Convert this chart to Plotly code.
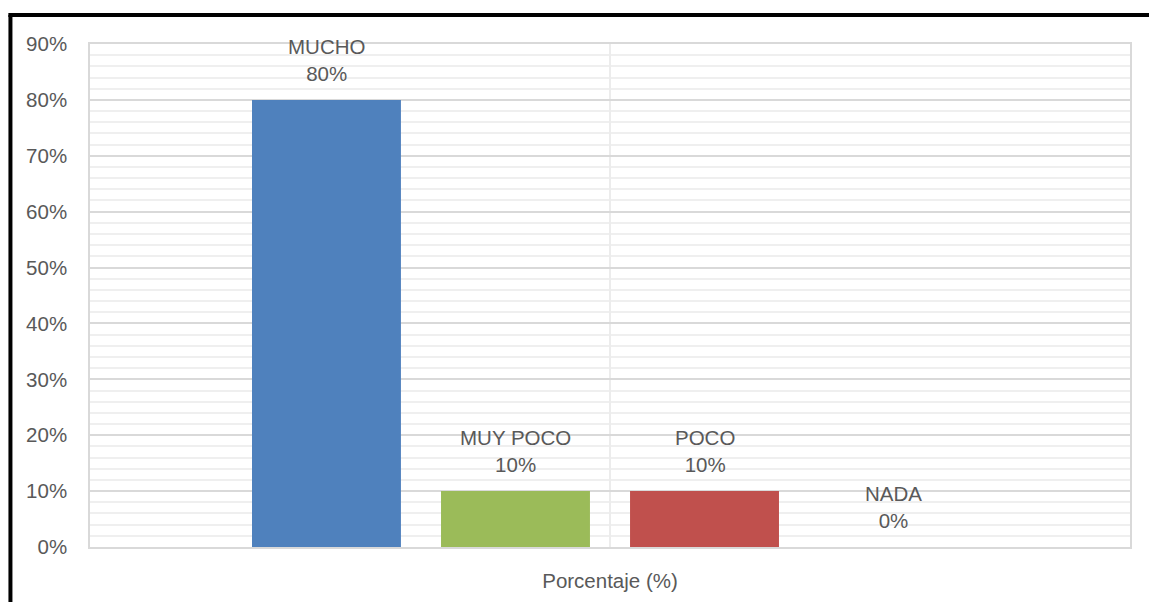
import plotly.graph_objects as go

# data
category = "Porcentaje (%)"
labels = ["MUCHO", "MUY POCO", "POCO", "NADA"]
values = [0.80, 0.10, 0.10, 0.00]
colors = ["#4F81BD", "#9BBB59", "#C0504D", "#7F7F7F"]
y_ticks = [0, 0.1, 0.2, 0.3, 0.4, 0.5, 0.6, 0.7, 0.8, 0.9]

font_name = "Liberation Sans"
text_color = "#595959"
bar_gap = 0.273
bar_group_gap = 0.212

fig = go.Figure()
for name, val, col in zip(labels, values, colors):
    fig.add_trace(go.Bar(x=[category], y=[val], name=name,
                         marker=dict(color=col, line=dict(width=0)),
                         showlegend=False, hoverinfo="skip"))

# labels above each bar, placed at the grouped bar centres (data coords)
group_w = 1 - bar_gap
slot = group_w / len(labels)
for i, (name, val) in enumerate(zip(labels, values)):
    fig.add_annotation(
        x=-group_w / 2 + slot * (i + 0.5), y=val, xref="x", yref="y",
        text=f"{name}<br>{val:.0%}", showarrow=False,
        yanchor="middle", yshift=40,
        font=dict(family=font_name, size=20.5, color=text_color))

# page body adds an 8px offset, so margins are trimmed on the left/top
fig.update_layout(
    width=1157, height=602,
    margin=dict(l=82, r=35, t=36, b=63),
    paper_bgcolor="white", plot_bgcolor="white",
    barmode="group", bargap=bar_gap, bargroupgap=bar_group_gap,
    font=dict(family=font_name, size=20.5, color=text_color),
    shapes=[
        # black frame around the chart (left and top edges visible)
        dict(type="line", xref="paper", yref="paper",
             x0=-0.0765, x1=-0.0765, y0=-0.2, y1=1.0577,
             line=dict(color="black", width=4)),
        dict(type="line", xref="paper", yref="paper",
             x0=-0.0785, x1=1.1, y0=1.0577, y1=1.0577,
             line=dict(color="black", width=4)),
    ],
)

fig.update_xaxes(
    type="category", showgrid=True, gridcolor="#ececec", gridwidth=1.5,
    showline=True, mirror=True, linecolor="#d9d9d9", linewidth=1.5,
    ticks="", ticklabelstandoff=15, zeroline=False,
    tickfont=dict(family=font_name, size=20.5, color=text_color))

fig.update_yaxes(
    range=[0, 0.9], tickvals=y_ticks, tickformat=".0%",
    showgrid=True, gridcolor="#d9d9d9", gridwidth=1.5,
    minor=dict(dtick=0.02, showgrid=True, gridcolor="#efefef", gridwidth=1.5),
    showline=True, mirror=True, linecolor="#d9d9d9", linewidth=1.5,
    zeroline=False, ticks="", ticklabelstandoff=17,
    tickfont=dict(family=font_name, size=20.5, color=text_color))

fig.write_html("out.html")
